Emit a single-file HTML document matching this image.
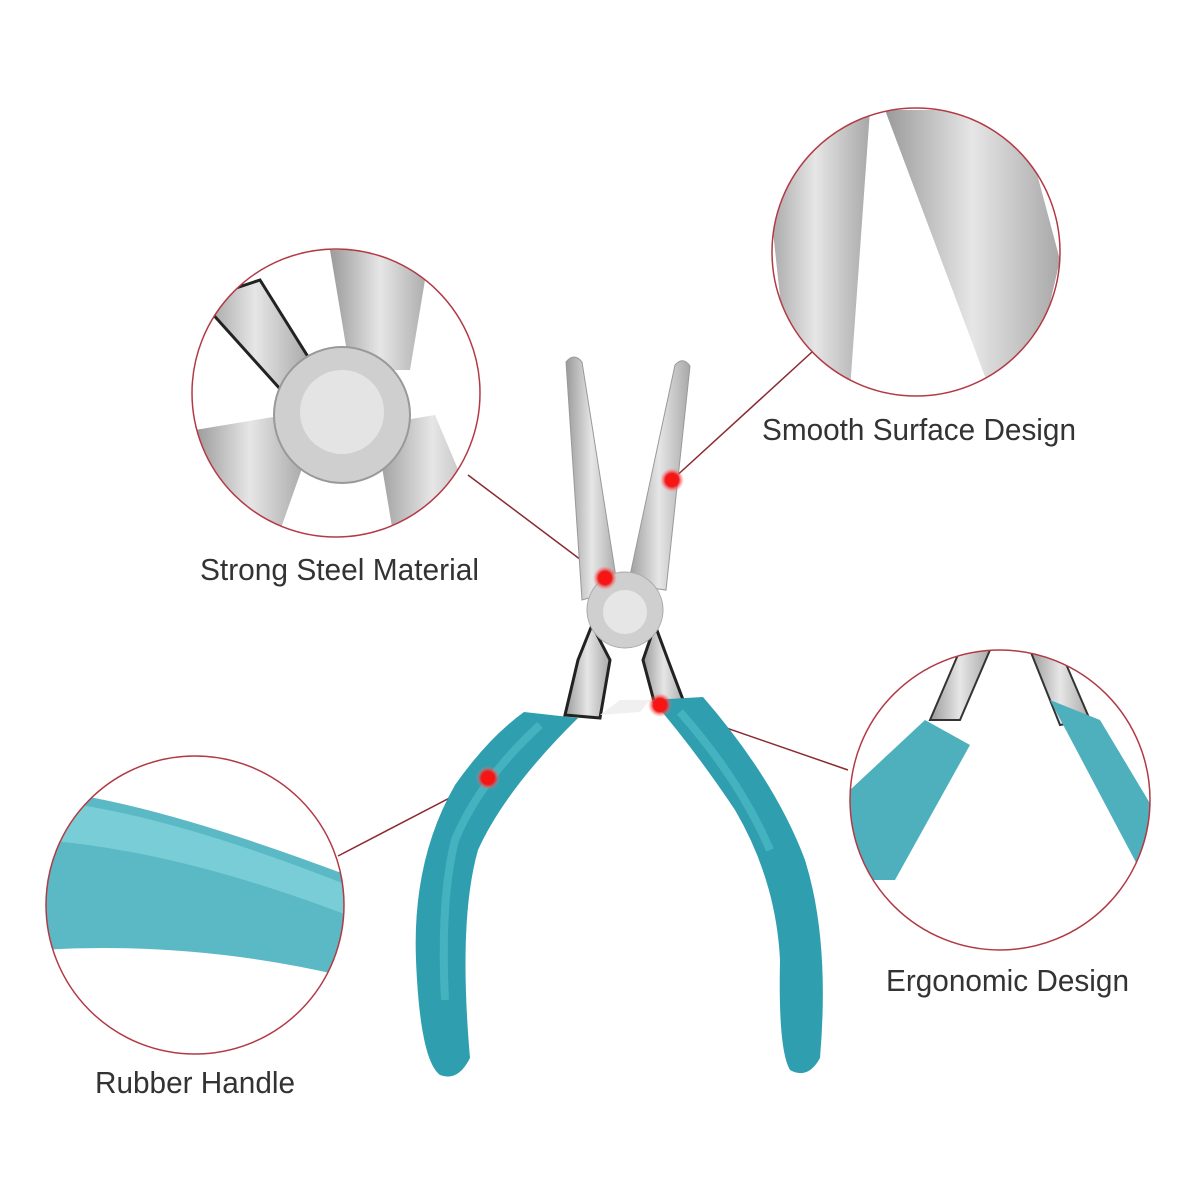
<!DOCTYPE html>
<html><head><meta charset="utf-8"><style>
html,body{margin:0;padding:0;background:#fff}
svg{display:block}
text{font-family:"Liberation Sans",sans-serif;fill:#333;font-size:31px}
</style></head><body>
<svg width="1200" height="1200" viewBox="0 0 1200 1200" xmlns="http://www.w3.org/2000/svg">
<defs>
<linearGradient id="steel" x1="0" x2="1" y1="0" y2="0">
<stop offset="0" stop-color="#9a9a9a"/><stop offset=".5" stop-color="#e6e6e6"/><stop offset="1" stop-color="#a8a8a8"/>
</linearGradient>
<radialGradient id="dot"><stop offset="0" stop-color="#ff1010"/><stop offset=".55" stop-color="#f01818"/><stop offset="1" stop-color="#ff8080" stop-opacity="0"/></radialGradient>
<clipPath id="c1"><circle cx="336" cy="393" r="144"/></clipPath>
<clipPath id="c2"><circle cx="916" cy="252" r="144"/></clipPath>
<clipPath id="c3"><circle cx="195" cy="905" r="149"/></clipPath>
<clipPath id="c4"><circle cx="1000" cy="800" r="150"/></clipPath>
</defs>

<g stroke="#8a2a30" stroke-width="1.5" fill="none">
<line x1="605" y1="578" x2="468" y2="475"/>
<line x1="672" y1="480" x2="812" y2="352"/>
<line x1="660" y1="705" x2="848" y2="770"/>
<line x1="488" y1="778" x2="338" y2="856"/>
</g>

<g clip-path="url(#c1)">
<rect x="180" y="240" width="320" height="320" fill="#fff"/>
<path d="M200 300 L260 280 L310 360 L290 400 Z" fill="url(#steel)" stroke="#222" stroke-width="3"/>
<path d="M330 250 L430 250 L410 370 L350 370 Z" fill="url(#steel)"/>
<path d="M195 430 L285 415 L305 460 L275 545 L195 545 Z" fill="url(#steel)"/>
<path d="M375 425 L435 415 L490 545 L395 545 Z" fill="url(#steel)"/>
<circle cx="342" cy="415" r="68" fill="#cfcfcf" stroke="#999" stroke-width="2"/>
<circle cx="342" cy="412" r="42" fill="#e4e4e4"/>
</g>
<circle cx="336" cy="393" r="144" fill="none" stroke="#b23a44" stroke-width="1.5"/>

<g clip-path="url(#c2)">
<rect x="760" y="100" width="320" height="320" fill="#fff"/>
<path d="M760 110 L870 110 L850 390 L790 390 Z" fill="url(#steel)"/>
<path d="M885 110 L1020 110 L1060 260 L1030 390 L990 390 Z" fill="url(#steel)"/>
</g>
<circle cx="916" cy="252" r="144" fill="none" stroke="#b23a44" stroke-width="1.5"/>

<g clip-path="url(#c3)">
<rect x="40" y="750" width="320" height="320" fill="#fff"/>
<path d="M40 790 Q150 800 360 880 L360 980 Q200 940 40 950 Z" fill="#5ab9c4"/>
<path d="M40 800 Q160 810 360 890 L360 920 Q180 850 40 840 Z" fill="#78cdd6"/>
</g>
<circle cx="195" cy="905" r="149" fill="none" stroke="#b23a44" stroke-width="1.5"/>

<g clip-path="url(#c4)">
<rect x="845" y="645" width="310" height="310" fill="#fff"/>
<path d="M960 650 L990 650 L960 720 L930 720 Z" fill="url(#steel)" stroke="#333" stroke-width="2"/>
<path d="M1030 650 L1060 650 L1090 720 L1060 725 Z" fill="url(#steel)" stroke="#333" stroke-width="2"/>
<path d="M850 790 L925 720 L970 745 L895 880 L850 880 Z" fill="#4fb0bd"/>
<path d="M1050 700 L1100 720 L1160 820 L1140 870 Z" fill="#4fb0bd"/>
</g>
<circle cx="1000" cy="800" r="150" fill="none" stroke="#b23a44" stroke-width="1.5"/>

<!-- pliers -->
<path d="M566 362 Q574 352 582 362 L618 590 L582 600 Z" fill="url(#steel)" stroke="#999"/>
<path d="M675 365 Q683 356 690 366 L666 590 L628 585 Z" fill="url(#steel)" stroke="#999"/>
<path d="M592 625 L578 660 L565 715 L600 718 L610 660 Z" fill="url(#steel)" stroke="#222" stroke-width="3"/>
<path d="M655 625 L668 660 L685 705 L655 705 L643 660 Z" fill="url(#steel)" stroke="#222" stroke-width="3"/>
<circle cx="625" cy="610" r="38" fill="#cfcfcf" stroke="#aaa"/>
<circle cx="625" cy="612" r="22" fill="#e6e6e6"/>
<path d="M600 715 L620 700 L650 700 L640 712 Z" fill="#f0f0f0"/>
<path d="M524 712 L578 718 Q505 790 478 850 Q458 920 470 1058 Q458 1082 440 1075 Q420 1060 416 960 Q412 860 455 785 Q488 738 524 712 Z" fill="#2f9fb0"/>
<path d="M652 700 L703 697 Q775 780 805 860 Q830 940 820 1058 Q808 1080 790 1070 Q778 1050 780 960 Q776 880 735 810 Q695 750 652 700 Z" fill="#2f9fb0"/>
<path d="M540 725 Q480 780 455 840 Q440 900 445 1000" stroke="#55c0cc" stroke-width="8" fill="none" opacity=".6"/>
<path d="M680 712 Q740 780 770 850" stroke="#55c0cc" stroke-width="8" fill="none" opacity=".6"/>

<circle cx="605" cy="578" r="12" fill="url(#dot)"/>
<circle cx="672" cy="480" r="12" fill="url(#dot)"/>
<circle cx="660" cy="705" r="12" fill="url(#dot)"/>
<circle cx="488" cy="778" r="12" fill="url(#dot)"/>

<text x="762" y="440" textLength="314" lengthAdjust="spacingAndGlyphs">Smooth Surface Design</text>
<text x="200" y="580" textLength="279" lengthAdjust="spacingAndGlyphs">Strong Steel Material</text>
<text x="886" y="991" textLength="243" lengthAdjust="spacingAndGlyphs">Ergonomic Design</text>
<text x="95" y="1093" textLength="200" lengthAdjust="spacingAndGlyphs">Rubber Handle</text>
</svg>
</body></html>
